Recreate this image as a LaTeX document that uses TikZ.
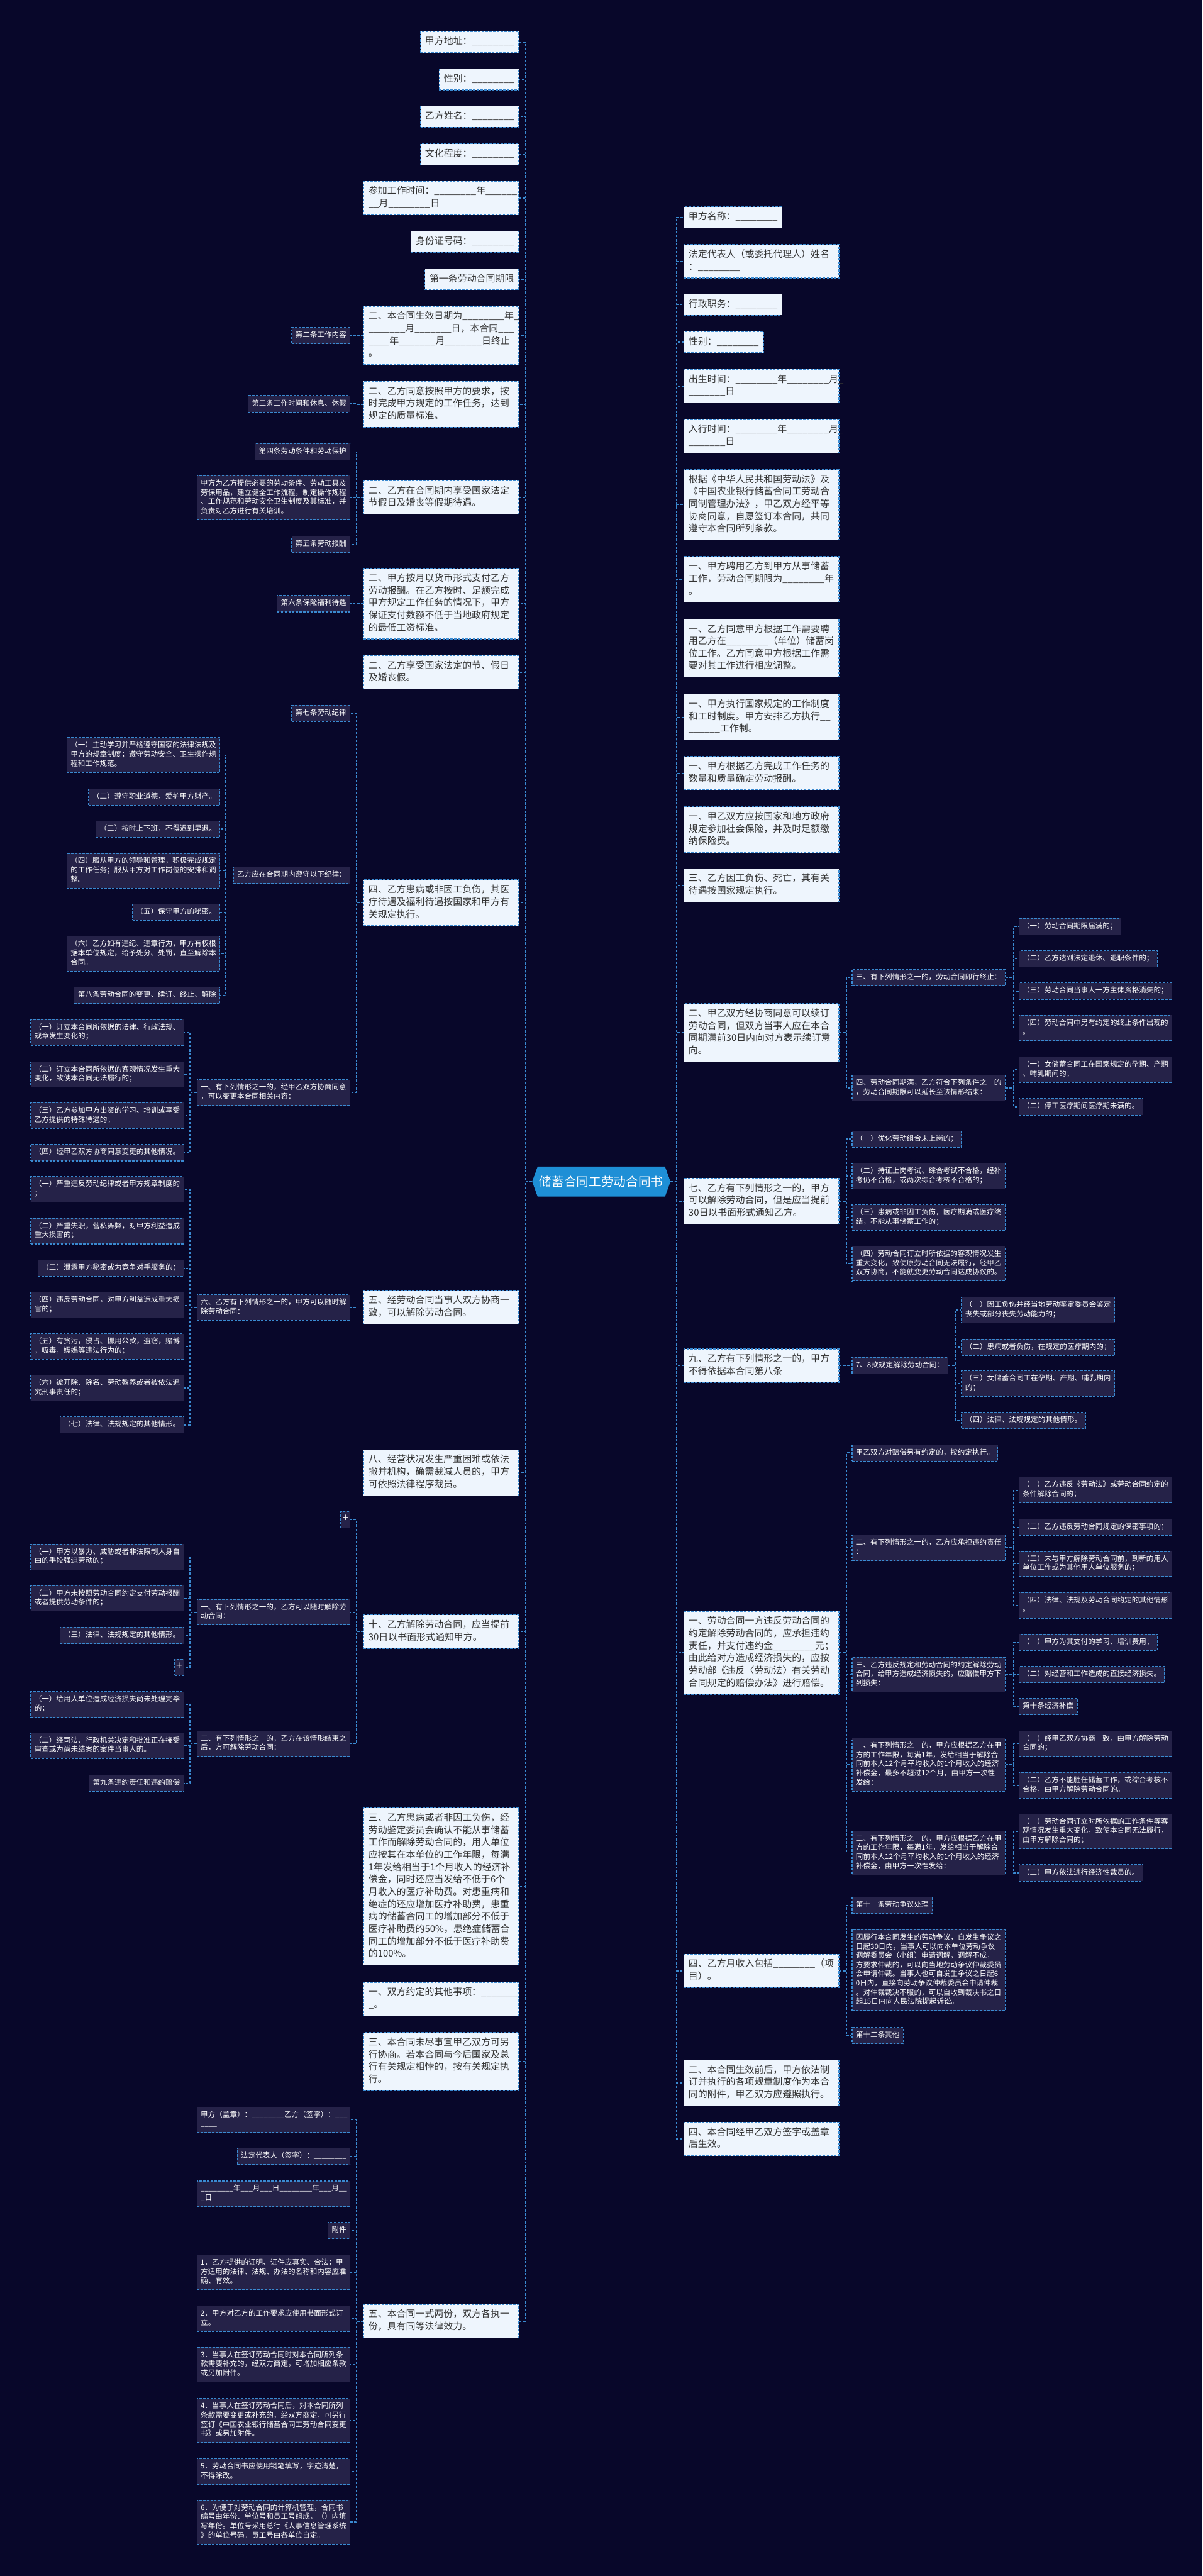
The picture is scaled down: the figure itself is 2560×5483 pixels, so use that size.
\documentclass[tikz,border=0pt]{standalone}
\usepackage{fontspec}
\setmainfont{Noto Sans CJK SC}
\usepackage{tikz}
\usetikzlibrary{shapes.symbols}

\definecolor{bgc}{HTML}{08072A}
\definecolor{linec}{HTML}{3A8AD1}
\definecolor{litefill}{HTML}{EEF5FD}
\definecolor{litetext}{HTML}{333333}
\definecolor{darkfill}{HTML}{252248}
\definecolor{rootfill}{HTML}{1E8FD6}

\tikzset{
  lite/.style={draw=linec, fill=litefill, text=litetext, line width=0.03cm,
    dash pattern=on 0.1cm off 0.06cm, font=\fontsize{11.38}{14.97}\selectfont,
    inner xsep=0.2cm, inner ysep=0.187cm, align=left,
    execute at begin node=\strut, execute at end node=\strut},
  dark/.style={draw=linec, fill=darkfill, text=white, line width=0.03cm,
    dash pattern=on 0.1cm off 0.06cm, font=\fontsize{8.82}{11.15}\selectfont,
    inner xsep=0.16cm, inner ysep=0.154cm, align=left,
    execute at begin node=\strut, execute at end node=\strut},
  wide/.style={text width=6.2cm},
  plusbox/.style={dark, font=\fontsize{13}{14}\selectfont, inner xsep=0.07cm, inner ysep=0.1cm},
  root/.style={signal, signal to=west and east, signal pointer angle=140,
    fill=rootfill, text=white, font=\fontsize{14.97}{18}\selectfont,
    minimum height=1.28cm, inner xsep=0.08cm},
  link/.style={draw=linec, line width=0.04cm, dash pattern=on 0.1cm off 0.07cm}
}

\begin{document}
\catcode`\_=12
\begin{tikzpicture}[x=0.02cm,y=-0.02cm]
\fill[bgc] (0,0) rectangle (2560,5483);

\node[root] (root) at (1280,2515) {储蓄合同工劳动合同书};

% left, first level
\node[lite, anchor=east] (L1) at (1105,89.5) {甲方地址：________};
\node[lite, anchor=east] (L2) at (1105,169) {性别：________};
\node[lite, anchor=east] (L3) at (1105,248.5) {乙方姓名：________};
\node[lite, anchor=east] (L4) at (1105,328.5) {文化程度：________};
\node[lite, wide, anchor=east] (L5) at (1105,421.5) {参加工作时间：________年______\\__月________日};
\node[lite, anchor=east] (L6) at (1105,514.5) {身份证号码：________};
\node[lite, anchor=east] (L7) at (1105,594.5) {第一条劳动合同期限};
\node[lite, wide, anchor=east] (L8) at (1105,714) {二、本合同生效日期为________年_\\_______月_______日，本合同___\\____年_______月_______日终止\\。};
\node[lite, wide, anchor=east] (L9) at (1105,860.5) {二、乙方同意按照甲方的要求，按\\时完成甲方规定的工作任务，达到\\规定的质量标准。};
\node[lite, wide, anchor=east] (L10) at (1105,1059) {二、乙方在合同期内享受国家法定\\节假日及婚丧等假期待遇。};
\node[lite, wide, anchor=east] (L11) at (1105,1285) {二、甲方按月以货币形式支付乙方\\劳动报酬。在乙方按时、足额完成\\甲方规定工作任务的情况下，甲方\\保证支付数额不低于当地政府规定\\的最低工资标准。};
\node[lite, wide, anchor=east] (L12) at (1105,1431) {二、乙方享受国家法定的节、假日\\及婚丧假。};
\node[lite, wide, anchor=east] (L13) at (1105,1921.5) {四、乙方患病或非因工负伤，其医\\疗待遇及福利待遇按国家和甲方有\\关规定执行。};
\node[lite, wide, anchor=east] (L14) at (1105,2782.5) {五、经劳动合同当事人双方协商一\\致，可以解除劳动合同。};
\node[lite, wide, anchor=east] (L15) at (1105,3134.5) {八、经营状况发生严重困难或依法\\撤并机构，确需裁减人员的，甲方\\可依照法律程序裁员。};
\node[lite, wide, anchor=east] (L16) at (1105,3473) {十、乙方解除劳动合同，应当提前\\30日以书面形式通知甲方。};
\node[lite, wide, anchor=east] (L17) at (1105,4015.5) {三、乙方患病或者非因工负伤，经\\劳动鉴定委员会确认不能从事储蓄\\工作而解除劳动合同的，用人单位\\应按其在本单位的工作年限，每满\\1年发给相当于1个月收入的经济补\\偿金，同时还应当发给不低于6个\\月收入的医疗补助费。对患重病和\\绝症的还应增加医疗补助费，患重\\病的储蓄合同工的增加部分不低于\\医疗补助费的50\%，患绝症储蓄合\\同工的增加部分不低于医疗补助费\\的100\%。};
\node[lite, wide, anchor=east] (L18) at (1105,4255) {一、双方约定的其他事项：_______\\_。};
\node[lite, wide, anchor=east] (L19) at (1105,4388) {三、本合同未尽事宜甲乙双方可另\\行协商。若本合同与今后国家及总\\行有关规定相悖的，按有关规定执\\行。};
\node[lite, wide, anchor=east] (L20) at (1105,4940.5) {五、本合同一式两份，双方各执一\\份，具有同等法律效力。};

% left, second level
\node[dark, anchor=east] (L8a) at (746,714.5) {第二条工作内容};
\node[dark, anchor=east] (L9a) at (746,859.5) {第三条工作时间和休息、休假};
\node[dark, anchor=east] (L10a) at (746,961.5) {第四条劳动条件和劳动保护};
\node[dark, wide, anchor=east] (L10b) at (746,1059.5) {甲方为乙方提供必要的劳动条件、劳动工具及\\劳保用品，建立健全工作流程，制定操作规程\\、工作规范和劳动安全卫生制度及其标准，并\\负责对乙方进行有关培训。};
\node[dark, anchor=east] (L10c) at (746,1158.5) {第五条劳动报酬};
\node[dark, anchor=east] (L11a) at (746,1285) {第六条保险福利待遇};
\node[dark, anchor=east] (L13a) at (746,1518.5) {第七条劳动纪律};
\node[dark, anchor=east] (L13b) at (746,1863) {乙方应在合同期内遵守以下纪律：};
\node[dark, wide, anchor=east] (L13c) at (746,2325.5) {一、有下列情形之一的，经甲乙双方协商同意\\，可以变更本合同相关内容：};
\node[dark, wide, anchor=east] (L14a) at (746,2783) {六、乙方有下列情形之一的，甲方可以随时解\\除劳动合同：};
\node[plusbox, anchor=east] (L16a) at (746,3234.5) {+};
\node[dark, wide, anchor=east] (L16b) at (746,3431.5) {一、有下列情形之一的，乙方可以随时解除劳\\动合同：};
\node[dark, wide, anchor=east] (L16c) at (746,3711.5) {二、有下列情形之一的，乙方在该情形结束之\\后，方可解除劳动合同：};
\node[dark, wide, anchor=east] (L20a) at (746,4512) {甲方（盖章）：________乙方（签字）：___\\____};
\node[dark, anchor=east] (L20b) at (746,4590) {法定代表人（签字）：________};
\node[dark, wide, anchor=east] (L20c) at (746,4669.5) {________年___月___日________年___月__\\_日};
\node[dark, anchor=east] (L20d) at (746,4747.5) {附件};
\node[dark, wide, anchor=east] (L20e) at (746,4836.5) {1．乙方提供的证明、证件应真实、合法；甲\\方适用的法律、法规、办法的名称和内容应准\\确、有效。};
\node[dark, wide, anchor=east] (L20f) at (746,4935.5) {2．甲方对乙方的工作要求应使用书面形式订\\立。};
\node[dark, wide, anchor=east] (L20g) at (746,5033) {3．当事人在签订劳动合同时对本合同所列条\\款需要补充的，经双方商定，可增加相应条款\\或另加附件。};
\node[dark, wide, anchor=east] (L20h) at (746,5152) {4．当事人在签订劳动合同后，对本合同所列\\条款需要变更或补充的，经双方商定，可另行\\签订《中国农业银行储蓄合同工劳动合同变更\\书》或另加附件。};
\node[dark, wide, anchor=east] (L20i) at (746,5261) {5．劳动合同书应使用钢笔填写，字迹清楚，\\不得涂改。};
\node[dark, wide, anchor=east] (L20j) at (746,5368) {6．为便于对劳动合同的计算机管理，合同书\\编号由年份、单位号和员工号组成，（）内填\\写年份。单位号采用总行《人事信息管理系统\\》的单位号码。员工号由各单位自定。};

% left, third level
\node[dark, wide, anchor=east] (L13b1) at (469,1607) {（一）主动学习并严格遵守国家的法律法规及\\甲方的规章制度；遵守劳动安全、卫生操作规\\程和工作规范。};
\node[dark, anchor=east] (L13b2) at (469,1696.5) {（二）遵守职业道德，爱护甲方财产。};
\node[dark, anchor=east] (L13b3) at (469,1764.5) {（三）按时上下班，不得迟到早退。};
\node[dark, wide, anchor=east] (L13b4) at (469,1853.5) {（四）服从甲方的领导和管理，积极完成规定\\的工作任务；服从甲方对工作岗位的安排和调\\整。};
\node[dark, anchor=east] (L13b5) at (469,1941.5) {（五）保守甲方的秘密。};
\node[dark, wide, anchor=east] (L13b6) at (469,2030) {（六）乙方如有违纪、违章行为，甲方有权根\\据本单位规定，给予处分、处罚，直至解除本\\合同。};
\node[dark, anchor=east] (L13b7) at (469,2119) {第八条劳动合同的变更、续订、终止、解除};
\node[dark, wide, anchor=east] (L13c1) at (392,2197.5) {（一）订立本合同所依据的法律、行政法规、\\规章发生变化的；};
\node[dark, wide, anchor=east] (L13c2) at (392,2287) {（二）订立本合同所依据的客观情况发生重大\\变化，致使本合同无法履行的；};
\node[dark, wide, anchor=east] (L13c3) at (392,2374.5) {（三）乙方参加甲方出资的学习、培训或享受\\乙方提供的特殊待遇的；};
\node[dark, anchor=east] (L13c4) at (392,2453.5) {（四）经甲乙双方协商同意变更的其他情况。};
\node[dark, wide, anchor=east] (L14a1) at (392,2531.5) {（一）严重违反劳动纪律或者甲方规章制度的\\；};
\node[dark, wide, anchor=east] (L14a2) at (392,2620.5) {（二）严重失职，营私舞弊，对甲方利益造成\\重大损害的；};
\node[dark, anchor=east] (L14a3) at (392,2699) {（三）泄露甲方秘密或为竞争对手服务的；};
\node[dark, wide, anchor=east] (L14a4) at (392,2778) {（四）违反劳动合同，对甲方利益造成重大损\\害的；};
\node[dark, wide, anchor=east] (L14a5) at (392,2866) {（五）有贪污，侵占、挪用公款，盗窃，赌博\\，吸毒，嫖娼等违法行为的；};
\node[dark, wide, anchor=east] (L14a6) at (392,2954.5) {（六）被开除、除名、劳动教养或者被依法追\\究刑事责任的；};
\node[dark, anchor=east] (L14a7) at (392,3033) {（七）法律、法规规定的其他情形。};
\node[dark, wide, anchor=east] (L16b1) at (392,3314) {（一）甲方以暴力、威胁或者非法限制人身自\\由的手段强迫劳动的；};
\node[dark, wide, anchor=east] (L16b2) at (392,3402) {（二）甲方未按照劳动合同约定支付劳动报酬\\或者提供劳动条件的；};
\node[dark, anchor=east] (L16b3) at (392,3481) {（三）法律、法规规定的其他情形。};
\node[plusbox, anchor=east] (L16b4) at (392,3549) {+};
\node[dark, wide, anchor=east] (L16c1) at (392,3628) {（一）给用人单位造成经济损失尚未处理完毕\\的；};
\node[dark, wide, anchor=east] (L16c2) at (392,3715.5) {（二）经司法、行政机关决定和批准正在接受\\审查或为尚未结案的案件当事人的。};
\node[dark, anchor=east] (L16c3) at (392,3795.5) {第九条违约责任和违约赔偿};

% right, first level
\node[lite, anchor=west] (R1) at (1455,462.5) {甲方名称：________};
\node[lite, wide, anchor=west] (R2) at (1455,556) {法定代表人（或委托代理人）姓名\\：________};
\node[lite, anchor=west] (R3) at (1455,648.5) {行政职务：________};
\node[lite, anchor=west] (R4) at (1455,728.5) {性别：________};
\node[lite, wide, anchor=west] (R5) at (1455,822) {出生时间：________年________月_\\_______日};
\node[lite, wide, anchor=west] (R6) at (1455,928.5) {入行时间：________年________月_\\_______日};
\node[lite, wide, anchor=west] (R7) at (1455,1074.5) {根据《中华人民共和国劳动法》及\\《中国农业银行储蓄合同工劳动合\\同制管理办法》，甲乙双方经平等\\协商同意，自愿签订本合同，共同\\遵守本合同所列条款。};
\node[lite, wide, anchor=west] (R8) at (1455,1233.5) {一、甲方聘用乙方到甲方从事储蓄\\工作，劳动合同期限为________年\\。};
\node[lite, wide, anchor=west] (R9) at (1455,1379.5) {一、乙方同意甲方根据工作需要聘\\用乙方在________（单位）储蓄岗\\位工作。乙方同意甲方根据工作需\\要对其工作进行相应调整。};
\node[lite, wide, anchor=west] (R10) at (1455,1526.5) {一、甲方执行国家规定的工作制度\\和工时制度。甲方安排乙方执行__\\______工作制。};
\node[lite, wide, anchor=west] (R11) at (1455,1645.5) {一、甲方根据乙方完成工作任务的\\数量和质量确定劳动报酬。};
\node[lite, wide, anchor=west] (R12) at (1455,1766) {一、甲乙双方应按国家和地方政府\\规定参加社会保险，并及时足额缴\\纳保险费。};
\node[lite, wide, anchor=west] (R13) at (1455,1884.5) {三、乙方因工负伤、死亡，其有关\\待遇按国家规定执行。};
\node[lite, wide, anchor=west] (R14) at (1455,2198) {二、甲乙双方经协商同意可以续订\\劳动合同，但双方当事人应在本合\\同期满前30日内向对方表示续订意\\向。};
\node[lite, wide, anchor=west] (R15) at (1455,2556.5) {七、乙方有下列情形之一的，甲方\\可以解除劳动合同，但是应当提前\\30日以书面形式通知乙方。};
\node[lite, wide, anchor=west] (R16) at (1455,2907) {九、乙方有下列情形之一的，甲方\\不得依据本合同第八条};
\node[lite, wide, anchor=west] (R17) at (1455,3518) {一、劳动合同一方违反劳动合同的\\约定解除劳动合同的，应承担违约\\责任，并支付违约金________元；\\由此给对方造成经济损失的，应按\\劳动部《违反〈劳动法〉有关劳动\\合同规定的赔偿办法》进行赔偿。};
\node[lite, wide, anchor=west] (R18) at (1455,4195) {四、乙方月收入包括________（项\\目）。};
\node[lite, wide, anchor=west] (R19) at (1455,4433.5) {二、本合同生效前后，甲方依法制\\订并执行的各项规章制度作为本合\\同的附件，甲乙双方应遵照执行。};
\node[lite, wide, anchor=west] (R20) at (1455,4552.5) {四、本合同经甲乙双方签字或盖章\\后生效。};

% right, second level
\node[dark, anchor=west] (R14a) at (1813,2081) {三、有下列情形之一的，劳动合同即行终止：};
\node[dark, wide, anchor=west] (R14b) at (1813,2316) {四、劳动合同期满，乙方符合下列条件之一的\\，劳动合同期限可以延长至该情形结束：};
\node[dark, anchor=west] (R15a) at (1813,2424.5) {（一）优化劳动组合未上岗的；};
\node[dark, wide, anchor=west] (R15b) at (1813,2503) {（二）持证上岗考试、综合考试不合格，经补\\考仍不合格，或两次综合考核不合格的；};
\node[dark, wide, anchor=west] (R15c) at (1813,2591.5) {（三）患病或非因工负伤，医疗期满或医疗终\\结，不能从事储蓄工作的；};
\node[dark, wide, anchor=west] (R15d) at (1813,2689.5) {（四）劳动合同订立时所依据的客观情况发生\\重大变化，致使原劳动合同无法履行，经甲乙\\双方协商，不能就变更劳动合同达成协议的。};
\node[dark, anchor=west] (R16a) at (1813,2906.5) {7、8款规定解除劳动合同：};
\node[dark, anchor=west] (R17a) at (1813,3092.5) {甲乙双方对赔偿另有约定的，按约定执行。};
\node[dark, wide, anchor=west] (R17b) at (1813,3294.5) {二、有下列情形之一的，乙方应承担违约责任\\：};
\node[dark, wide, anchor=west] (R17c) at (1813,3564.5) {三、乙方违反规定和劳动合同的约定解除劳动\\合同，给甲方造成经济损失的，应赔偿甲方下\\列损失：};
\node[dark, wide, anchor=west] (R17d) at (1813,3756) {一、有下列情形之一的，甲方应根据乙方在甲\\方的工作年限，每满1年，发给相当于解除合\\同前本人12个月平均收入的1个月收入的经济\\补偿金，最多不超过12个月，由甲方一次性\\发给：};
\node[dark, wide, anchor=west] (R17e) at (1813,3944) {二、有下列情形之一的，甲方应根据乙方在甲\\方的工作年限，每满1年，发给相当于解除合\\同前本人12个月平均收入的1个月收入的经济\\补偿金，由甲方一次性发给：};
\node[dark, anchor=west] (R18a) at (1813,4055.5) {第十一条劳动争议处理};
\node[dark, wide, anchor=west] (R18b) at (1813,4193.5) {因履行本合同发生的劳动争议，自发生争议之\\日起30日内，当事人可以向本单位劳动争议\\调解委员会（小组）申请调解，调解不成，一\\方要求仲裁的，可以向当地劳动争议仲裁委员\\会申请仲裁。当事人也可自发生争议之日起6\\0日内，直接向劳动争议仲裁委员会申请仲裁\\。对仲裁裁决不服的，可以自收到裁决书之日\\起15日内向人民法院提起诉讼。};
\node[dark, anchor=west] (R18c) at (1813,4332.5) {第十二条其他};

% right, third level
\node[dark, anchor=west] (R14a1) at (2168,1972) {（一）劳动合同期限届满的；};
\node[dark, anchor=west] (R14a2) at (2168,2041) {（二）乙方达到法定退休、退职条件的；};
\node[dark, anchor=west] (R14a3) at (2168,2109.5) {（三）劳动合同当事人一方主体资格消失的；};
\node[dark, wide, anchor=west] (R14a4) at (2168,2188) {（四）劳动合同中另有约定的终止条件出现的\\。};
\node[dark, wide, anchor=west] (R14b1) at (2168,2277) {（一）女储蓄合同工在国家规定的孕期、产期\\、哺乳期间的；};
\node[dark, anchor=west] (R14b2) at (2168,2356) {（二）停工医疗期间医疗期未满的。};
\node[dark, wide, anchor=west] (R16a1) at (2046,2788) {（一）因工负伤并经当地劳动鉴定委员会鉴定\\丧失或部分丧失劳动能力的；};
\node[dark, anchor=west] (R16a2) at (2046,2867.5) {（二）患病或者负伤，在规定的医疗期内的；};
\node[dark, wide, anchor=west] (R16a3) at (2046,2945) {（三）女储蓄合同工在孕期、产期、哺乳期内\\的；};
\node[dark, anchor=west] (R16a4) at (2046,3023.5) {（四）法律、法规规定的其他情形。};
\node[dark, wide, anchor=west] (R17b1) at (2168,3171.5) {（一）乙方违反《劳动法》或劳动合同约定的\\条件解除合同的；};
\node[dark, anchor=west] (R17b2) at (2168,3250.5) {（二）乙方违反劳动合同规定的保密事项的；};
\node[dark, wide, anchor=west] (R17b3) at (2168,3328.5) {（三）未与甲方解除劳动合同前，到新的用人\\单位工作或为其他用人单位服务的；};
\node[dark, wide, anchor=west] (R17b4) at (2168,3417) {（四）法律、法规及劳动合同约定的其他情形\\。};
\node[dark, anchor=west] (R17c1) at (2168,3495.5) {（一）甲方为其支付的学习、培训费用；};
\node[dark, anchor=west] (R17c2) at (2168,3564.5) {（二）对经营和工作造成的直接经济损失。};
\node[dark, anchor=west] (R17c3) at (2168,3632.5) {第十条经济补偿};
\node[dark, wide, anchor=west] (R17d1) at (2168,3711.5) {（一）经甲乙双方协商一致，由甲方解除劳动\\合同的；};
\node[dark, wide, anchor=west] (R17d2) at (2168,3800) {（二）乙方不能胜任储蓄工作，或综合考核不\\合格，由甲方解除劳动合同的。};
\node[dark, wide, anchor=west] (R17e1) at (2168,3898) {（一）劳动合同订立时所依据的工作条件等客\\观情况发生重大变化，致使本合同无法履行，\\由甲方解除合同的；};
\node[dark, anchor=west] (R17e2) at (2168,3986.5) {（二）甲方依法进行经济性裁员的。};

% connectors from the root
\draw[link] (root.west) -- ++(-14,0) |- (L1.east);
\draw[link] (root.west) -- ++(-14,0) |- (L2.east);
\draw[link] (root.west) -- ++(-14,0) |- (L3.east);
\draw[link] (root.west) -- ++(-14,0) |- (L4.east);
\draw[link] (root.west) -- ++(-14,0) |- (L5.east);
\draw[link] (root.west) -- ++(-14,0) |- (L6.east);
\draw[link] (root.west) -- ++(-14,0) |- (L7.east);
\draw[link] (root.west) -- ++(-14,0) |- (L8.east);
\draw[link] (root.west) -- ++(-14,0) |- (L9.east);
\draw[link] (root.west) -- ++(-14,0) |- (L10.east);
\draw[link] (root.west) -- ++(-14,0) |- (L11.east);
\draw[link] (root.west) -- ++(-14,0) |- (L12.east);
\draw[link] (root.west) -- ++(-14,0) |- (L13.east);
\draw[link] (root.west) -- ++(-14,0) |- (L14.east);
\draw[link] (root.west) -- ++(-14,0) |- (L15.east);
\draw[link] (root.west) -- ++(-14,0) |- (L16.east);
\draw[link] (root.west) -- ++(-14,0) |- (L17.east);
\draw[link] (root.west) -- ++(-14,0) |- (L18.east);
\draw[link] (root.west) -- ++(-14,0) |- (L19.east);
\draw[link] (root.west) -- ++(-14,0) |- (L20.east);
\draw[link] (root.east) -- ++(13,0) |- (R1.west);
\draw[link] (root.east) -- ++(13,0) |- (R2.west);
\draw[link] (root.east) -- ++(13,0) |- (R3.west);
\draw[link] (root.east) -- ++(13,0) |- (R4.west);
\draw[link] (root.east) -- ++(13,0) |- (R5.west);
\draw[link] (root.east) -- ++(13,0) |- (R6.west);
\draw[link] (root.east) -- ++(13,0) |- (R7.west);
\draw[link] (root.east) -- ++(13,0) |- (R8.west);
\draw[link] (root.east) -- ++(13,0) |- (R9.west);
\draw[link] (root.east) -- ++(13,0) |- (R10.west);
\draw[link] (root.east) -- ++(13,0) |- (R11.west);
\draw[link] (root.east) -- ++(13,0) |- (R12.west);
\draw[link] (root.east) -- ++(13,0) |- (R13.west);
\draw[link] (root.east) -- ++(13,0) |- (R14.west);
\draw[link] (root.east) -- ++(13,0) |- (R15.west);
\draw[link] (root.east) -- ++(13,0) |- (R16.west);
\draw[link] (root.east) -- ++(13,0) |- (R17.west);
\draw[link] (root.east) -- ++(13,0) |- (R18.west);
\draw[link] (root.east) -- ++(13,0) |- (R19.west);
\draw[link] (root.east) -- ++(13,0) |- (R20.west);

% left connectors
\draw[link] (L8.west) -- ++(-15,0) |- (L8a.east);
\draw[link] (L9.west) -- ++(-15,0) |- (L9a.east);
\draw[link] (L10.west) -- ++(-15,0) |- (L10a.east);
\draw[link] (L10.west) -- ++(-15,0) |- (L10b.east);
\draw[link] (L10.west) -- ++(-15,0) |- (L10c.east);
\draw[link] (L11.west) -- ++(-15,0) |- (L11a.east);
\draw[link] (L13.west) -- ++(-15,0) |- (L13a.east);
\draw[link] (L13.west) -- ++(-15,0) |- (L13b.east);
\draw[link] (L13.west) -- ++(-15,0) |- (L13c.east);
\draw[link] (L14.west) -- ++(-15,0) |- (L14a.east);
\draw[link] (L16.west) -- ++(-15,0) |- (L16a.east);
\draw[link] (L16.west) -- ++(-15,0) |- (L16b.east);
\draw[link] (L16.west) -- ++(-15,0) |- (L16c.east);
\draw[link] (L20.west) -- ++(-15,0) |- (L20a.east);
\draw[link] (L20.west) -- ++(-15,0) |- (L20b.east);
\draw[link] (L20.west) -- ++(-15,0) |- (L20c.east);
\draw[link] (L20.west) -- ++(-15,0) |- (L20d.east);
\draw[link] (L20.west) -- ++(-15,0) |- (L20e.east);
\draw[link] (L20.west) -- ++(-15,0) |- (L20f.east);
\draw[link] (L20.west) -- ++(-15,0) |- (L20g.east);
\draw[link] (L20.west) -- ++(-15,0) |- (L20h.east);
\draw[link] (L20.west) -- ++(-15,0) |- (L20i.east);
\draw[link] (L20.west) -- ++(-15,0) |- (L20j.east);
\draw[link] (L13b.west) -- ++(-16,0) |- (L13b1.east);
\draw[link] (L13b.west) -- ++(-16,0) |- (L13b2.east);
\draw[link] (L13b.west) -- ++(-16,0) |- (L13b3.east);
\draw[link] (L13b.west) -- ++(-16,0) |- (L13b4.east);
\draw[link] (L13b.west) -- ++(-16,0) |- (L13b5.east);
\draw[link] (L13b.west) -- ++(-16,0) |- (L13b6.east);
\draw[link] (L13b.west) -- ++(-16,0) |- (L13b7.east);
\draw[link] (L13c.west) -- ++(-14,0) |- (L13c1.east);
\draw[link] (L13c.west) -- ++(-14,0) |- (L13c2.east);
\draw[link] (L13c.west) -- ++(-14,0) |- (L13c3.east);
\draw[link] (L13c.west) -- ++(-14,0) |- (L13c4.east);
\draw[link] (L14a.west) -- ++(-14,0) |- (L14a1.east);
\draw[link] (L14a.west) -- ++(-14,0) |- (L14a2.east);
\draw[link] (L14a.west) -- ++(-14,0) |- (L14a3.east);
\draw[link] (L14a.west) -- ++(-14,0) |- (L14a4.east);
\draw[link] (L14a.west) -- ++(-14,0) |- (L14a5.east);
\draw[link] (L14a.west) -- ++(-14,0) |- (L14a6.east);
\draw[link] (L14a.west) -- ++(-14,0) |- (L14a7.east);
\draw[link] (L16b.west) -- ++(-14,0) |- (L16b1.east);
\draw[link] (L16b.west) -- ++(-14,0) |- (L16b2.east);
\draw[link] (L16b.west) -- ++(-14,0) |- (L16b3.east);
\draw[link] (L16b.west) -- ++(-14,0) |- (L16b4.east);
\draw[link] (L16c.west) -- ++(-14,0) |- (L16c1.east);
\draw[link] (L16c.west) -- ++(-14,0) |- (L16c2.east);
\draw[link] (L16c.west) -- ++(-14,0) |- (L16c3.east);

% right connectors
\draw[link] (R14.east) -- ++(15,0) |- (R14a.west);
\draw[link] (R14.east) -- ++(15,0) |- (R14b.west);
\draw[link] (R15.east) -- ++(15,0) |- (R15a.west);
\draw[link] (R15.east) -- ++(15,0) |- (R15b.west);
\draw[link] (R15.east) -- ++(15,0) |- (R15c.west);
\draw[link] (R15.east) -- ++(15,0) |- (R15d.west);
\draw[link] (R16.east) -- ++(15,0) |- (R16a.west);
\draw[link] (R17.east) -- ++(15,0) |- (R17a.west);
\draw[link] (R17.east) -- ++(15,0) |- (R17b.west);
\draw[link] (R17.east) -- ++(15,0) |- (R17c.west);
\draw[link] (R17.east) -- ++(15,0) |- (R17d.west);
\draw[link] (R17.east) -- ++(15,0) |- (R17e.west);
\draw[link] (R18.east) -- ++(15,0) |- (R18a.west);
\draw[link] (R18.east) -- ++(15,0) |- (R18b.west);
\draw[link] (R18.east) -- ++(15,0) |- (R18c.west);
\draw[link] (R14a.east) -- ++(17,0) |- (R14a1.west);
\draw[link] (R14a.east) -- ++(17,0) |- (R14a2.west);
\draw[link] (R14a.east) -- ++(17,0) |- (R14a3.west);
\draw[link] (R14a.east) -- ++(17,0) |- (R14a4.west);
\draw[link] (R14b.east) -- ++(17,0) |- (R14b1.west);
\draw[link] (R14b.east) -- ++(17,0) |- (R14b2.west);
\draw[link] (R16a.east) -- ++(15,0) |- (R16a1.west);
\draw[link] (R16a.east) -- ++(15,0) |- (R16a2.west);
\draw[link] (R16a.east) -- ++(15,0) |- (R16a3.west);
\draw[link] (R16a.east) -- ++(15,0) |- (R16a4.west);
\draw[link] (R17b.east) -- ++(17,0) |- (R17b1.west);
\draw[link] (R17b.east) -- ++(17,0) |- (R17b2.west);
\draw[link] (R17b.east) -- ++(17,0) |- (R17b3.west);
\draw[link] (R17b.east) -- ++(17,0) |- (R17b4.west);
\draw[link] (R17c.east) -- ++(17,0) |- (R17c1.west);
\draw[link] (R17c.east) -- ++(17,0) |- (R17c2.west);
\draw[link] (R17c.east) -- ++(17,0) |- (R17c3.west);
\draw[link] (R17d.east) -- ++(17,0) |- (R17d1.west);
\draw[link] (R17d.east) -- ++(17,0) |- (R17d2.west);
\draw[link] (R17e.east) -- ++(17,0) |- (R17e1.west);
\draw[link] (R17e.east) -- ++(17,0) |- (R17e2.west);
\end{tikzpicture}
\end{document}
